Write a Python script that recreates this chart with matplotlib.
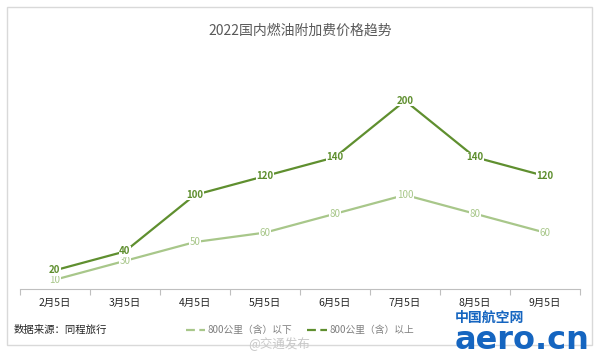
import matplotlib.pyplot as plt
from matplotlib.lines import Line2D
from matplotlib.patches import Rectangle

plt.rcParams['font.family'] = ['Noto Sans CJK SC', 'DejaVu Sans']

dates = ["2月5日", "3月5日", "4月5日", "5月5日", "6月5日", "7月5日", "8月5日", "9月5日"]
below_800 = [10, 30, 50, 60, 80, 100, 80, 60]
above_800 = [20, 40, 100, 120, 140, 200, 140, 120]
series_names = ["800公里（含）以下", "800公里（含）以上"]

light = "#a8c78a"
dark = "#5f8f2f"

fig = plt.figure(figsize=(6, 3.57), dpi=100)
fig.patches.append(Rectangle((0.012, 0.035), 0.975, 0.945, transform=fig.transFigure,
                             fill=False, edgecolor="#d9d9d9", linewidth=1))
ax = fig.add_axes([0.033, 0.19, 0.934, 0.66])

x = list(range(len(dates)))
ax.plot(x, below_800, color=light, linewidth=1.6)
ax.plot(x, above_800, color=dark, linewidth=1.6)

for xi, v in zip(x, below_800):
    ax.text(xi, v, str(v), ha="center", va="center", fontsize=7, color=light, zorder=4,
            bbox=dict(boxstyle="square,pad=0.05", fc="white", ec="none"))
for xi, v in zip(x, above_800):
    ax.text(xi, v, str(v), ha="center", va="center", fontsize=7, color=dark, zorder=5,
            fontweight="bold", bbox=dict(boxstyle="square,pad=0.05", fc="white", ec="none"))

ax.set_xlim(-0.5, len(dates) - 0.5)
ax.set_ylim(0, 250)
ax.set_yticks([])
ax.set_xticks([i - 0.5 for i in range(len(dates) + 1)])
ax.set_xticklabels([])
ax.tick_params(axis="x", length=4, color="#bfbfbf")
ax.set_xticks(x, minor=True)
ax.set_xticklabels(dates, minor=True, fontsize=7.5, color="#262626")
ax.tick_params(axis="x", which="minor", length=0, pad=6)
for s in ["top", "right", "left"]:
    ax.spines[s].set_visible(False)
ax.spines["bottom"].set_color("#bfbfbf")

fig.text(0.5, 0.915, "2022国内燃油附加费价格趋势", ha="center", va="center",
         fontsize=10, color="#595959")
fig.text(0.022, 0.075, "数据来源：同程旅行", ha="left", va="center", fontsize=7.5, color="#262626")

handles = [Line2D([], [], color=light, linewidth=1.6, linestyle=(0, (4, 2))),
           Line2D([], [], color=dark, linewidth=1.6, linestyle=(0, (4, 2)))]
fig.legend(handles, series_names, loc="center", bbox_to_anchor=(0.5, 0.075), ncol=2,
           frameon=False, fontsize=7, labelcolor="#7f7f7f", handlelength=2,
           columnspacing=1.5, handletextpad=0.3)

fig.text(0.465, 0.035, "@交通发布", ha="center", va="center", fontsize=9, color="#c8c8c8")
fig.text(0.815, 0.11, "中国航空网", ha="center", va="center", fontsize=10, color="#1565c0",
         fontweight="bold")
fig.text(0.87, 0.045, "aero.cn", ha="center", va="center", fontsize=23, color="#1565c0",
         fontweight="bold", family="DejaVu Sans")

fig.savefig("out.png", dpi=100)
